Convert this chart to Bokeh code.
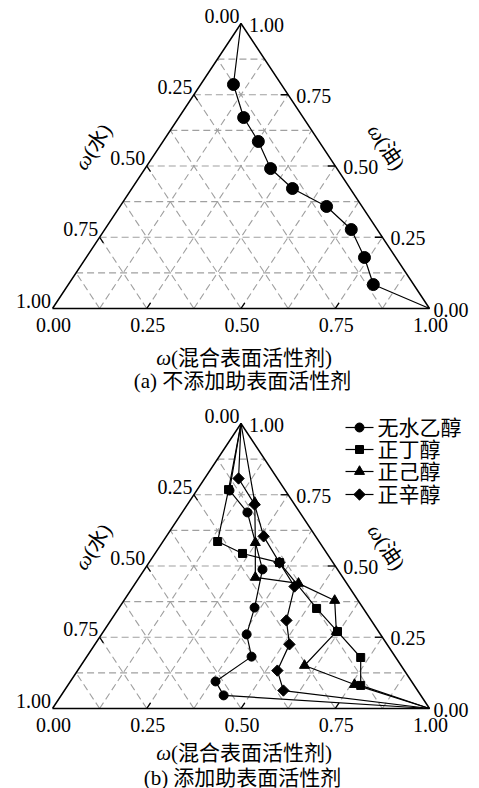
import math
import numpy as np
from bokeh.plotting import figure
from bokeh.models import Range1d
from bokeh.core.properties import value
from bokeh.embed import file_html
from bokeh.resources import INLINE

# ---------------- data (mass fractions; water = 1 - surfactant - oil) ----------------
# (a) without co-surfactant
a_surf = [0.087, 0.172, 0.253, 0.333, 0.426, 0.548, 0.654, 0.738, 0.809]
a_oil = [0.786, 0.670, 0.586, 0.491, 0.421, 0.358, 0.277, 0.179, 0.084]

# (b) with co-surfactant
eth_surf = [0.087, 0.173, 0.313, 0.359, 0.385, 0.437, 0.385, 0.431]
eth_oil = [0.765, 0.688, 0.488, 0.354, 0.260, 0.182, 0.095, 0.046]
but_surf = [0.083, 0.145, 0.232, 0.346, 0.525, 0.621, 0.728, 0.777]
but_oil = [0.768, 0.586, 0.544, 0.512, 0.351, 0.270, 0.179, 0.081]
hex_surf = [0.175, 0.247, 0.308, 0.433, 0.559, 0.618, 0.593, 0.759]
hex_oil = [0.723, 0.582, 0.460, 0.439, 0.379, 0.270, 0.151, 0.084]
oct_surf = [0.090, 0.178, 0.258, 0.346, 0.428, 0.466, 0.516, 0.530, 0.581]
oct_oil = [0.807, 0.716, 0.604, 0.512, 0.428, 0.309, 0.225, 0.133, 0.063]

# end points of every curve: pure oil (apex) and pure surfactant (corner)
start_point = (0.0, 1.0)
end_point = (1.0, 0.0)

tick_values = [0.00, 0.25, 0.50, 0.75, 1.00]
tick_labels = ["0.00", "0.25", "0.50", "0.75", "1.00"]
legend_labels = ["无水乙醇", "正丁醇", "正己醇", "正辛醇"]
title_left = ("ω", "(水)")
title_right = ("ω", "(油)")
title_bottom = ("ω", "(混合表面活性剂)")
captions = ["(a) 不添加助表面活性剂", "(b) 添加助表面活性剂"]

# ---------------- geometry ----------------
PW, PH = 479, 788
W, H = 377.0, 285.0
X0 = 52.0
ANG = math.atan2(H, W / 2)
CJK_NAME = "Liberation Serif, Noto Sans CJK SC"
NUM_FONT = value("Liberation Serif")
CJK_FONT = value(CJK_NAME)
NUM_SIZE = "20px"
CJK_SIZE = "21px"

# marker styles: (marker, size, angle)
STY_A = ("circle", 12, 0.0)
STY_B = [("circle", 9, 0.0), ("square", 8, 0.0), ("triangle", 10, 0.0), ("square", 8, math.pi / 4)]


def tern(s, o, y0):
    s = np.asarray(s, dtype=float)
    o = np.asarray(o, dtype=float)
    return X0 + W * (s + o / 2.0), y0 + H * o


p = figure(width=PW, height=PH, x_range=Range1d(0, PW), y_range=Range1d(0, PH),
           output_backend="svg", toolbar_location=None, min_border=0,
           x_axis_type=None, y_axis_type=None)
p.grid.visible = False
p.outline_line_color = None
p.background_fill_color = "white"


def split_title(p, cx, cy, angle, parts, w_first, total):
    d = w_first - total / 2.0
    sx = cx + d * math.cos(angle)
    sy = cy + d * math.sin(angle)
    p.text([sx], [sy], text=[parts[0]], angle=angle, text_align="right", text_baseline="middle",
           text_font=NUM_FONT, text_font_style="italic", text_font_size=CJK_SIZE, text_color="black")
    p.text([sx], [sy], text=[parts[1]], angle=angle, text_align="left", text_baseline="middle",
           text_font=CJK_FONT, text_font_size=CJK_SIZE, text_color="black")


def draw_frame(p, y0, title_dy, caption_dy, caption):
    gx, gy = [], []
    for k in range(1, 8):
        f = k / 8.0
        for sp, op in (([0, 1 - f], [f, f]), ([f, f], [0, 1 - f]), ([1 - f, 0], [0, 1 - f])):
            x, y = tern(sp, op, y0)
            gx.append(list(x))
            gy.append(list(y))
    p.multi_line(gx, gy, line_color="#a0a0a0", line_width=1.1, line_dash="7 4")
    x, y = tern([0, 1, 0, 0], [0, 0, 1, 0], y0)
    p.line(x, y, line_color="black", line_width=1.5)
    tl = 0.02
    tx, ty = [], []
    for v in tick_values[1:-1]:
        for sp, op in (([v, v], [0, tl]), ([1 - v, 1 - v - tl], [v, v]), ([0, tl], [1 - v, 1 - v - tl])):
            x, y = tern(sp, op, y0)
            tx.append(list(x))
            ty.append(list(y))
    p.multi_line(tx, ty, line_color="black", line_width=1.3)

    # bottom axis labels (surfactant)
    bx, by = tern(tick_values, [0] * 5, y0)
    p.text(bx + 1, by - 16, text=tick_labels, text_align="center", text_baseline="middle",
           text_font=NUM_FONT, text_font_size=NUM_SIZE, text_color="black")
    # right axis labels (oil)
    o = np.array(tick_values)
    rx, ry = tern(1 - o, o, y0)
    rx = rx + np.where(o == 0, 4, 8)
    p.text(rx, ry - 1, text=tick_labels, text_align="left", text_baseline="middle",
           text_font=NUM_FONT, text_font_size=NUM_SIZE, text_color="black")
    # left axis labels (water)
    lx, ly = tern([0] * 5, 1 - o, y0)
    p.text(lx - 1.5, ly + 8, text=tick_labels, text_align="right", text_baseline="middle",
           text_font=NUM_FONT, text_font_size=NUM_SIZE, text_color="black")

    # axis titles
    split_title(p, 93, y0 + 162, ANG, title_left, 14, 49)
    split_title(p, 386, y0 + 161, -ANG, title_right, 14, 49)
    split_title(p, 244, y0 - title_dy, 0.0, title_bottom, 14, 175)
    p.text([242], [y0 - caption_dy], text=[caption], text_align="center", text_baseline="middle",
           text_font=CJK_FONT, text_font_size=CJK_SIZE, text_color="black")


def series(p, y0, surf, oil, style):
    marker, size, ang = style
    ls = [start_point[0]] + list(surf) + [end_point[0]]
    lo = [start_point[1]] + list(oil) + [end_point[1]]
    x, y = tern(ls, lo, y0)
    p.line(x, y, line_color="black", line_width=1.2)
    mx, my = tern(surf, oil, y0)
    p.scatter(mx, my, marker=marker, size=size, angle=ang, fill_color="black", line_color="black")


# panel (a)
Y_A = PH - 308
draw_frame(p, Y_A, 49, 72, captions[0])
series(p, Y_A, a_surf, a_oil, STY_A)

# panel (b)
Y_B = PH - 708
draw_frame(p, Y_B, 44, 69, captions[1])
series(p, Y_B, eth_surf, eth_oil, STY_B[0])
series(p, Y_B, but_surf, but_oil, STY_B[1])
series(p, Y_B, hex_surf, hex_oil, STY_B[2])
series(p, Y_B, oct_surf, oct_oil, STY_B[3])

# legend (drawn as glyphs: line sample + marker + label)
LEG_X0, LEG_X1, LEG_TX = 345, 373, 377
leg_y = [PH - 427, PH - 449, PH - 471, PH - 494]
p.multi_line([[LEG_X0, LEG_X1] for _ in leg_y], [[yy, yy] for yy in leg_y],
             line_color="black", line_width=1.2)
for yy, sty in zip(leg_y, STY_B):
    marker, size, ang = sty
    p.scatter([(LEG_X0 + LEG_X1) / 2], [yy], marker=marker, size=size, angle=ang,
              fill_color="black", line_color="black")
p.text([LEG_TX] * 4, leg_y, text=legend_labels, text_align="left", text_baseline="middle",
       text_font=CJK_FONT, text_font_size=CJK_SIZE, text_color="black")

open("out.html", "w").write(file_html(p, INLINE))
